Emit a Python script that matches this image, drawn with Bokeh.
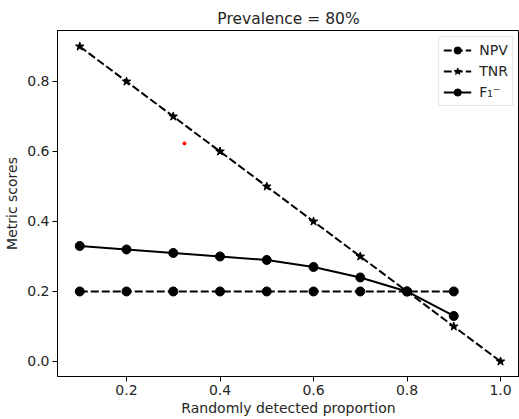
from bokeh.plotting import figure
from bokeh.models import Range1d, Legend, LegendItem, FixedTicker, PrintfTickFormatter
from bokeh.embed import file_html
from bokeh.resources import INLINE

# ---- data ----
x_detected = [0.1, 0.2, 0.3, 0.4, 0.5, 0.6, 0.7, 0.8, 0.9]
x_tnr = [0.1, 0.2, 0.3, 0.4, 0.5, 0.6, 0.7, 0.8, 0.9, 1.0]
npv = [0.2, 0.2, 0.2, 0.2, 0.2, 0.2, 0.2, 0.2, 0.2]
tnr = [0.9, 0.8, 0.7, 0.6, 0.5, 0.4, 0.3, 0.2, 0.1, 0.0]
f1_neg = [0.33, 0.32, 0.31, 0.30, 0.29, 0.27, 0.24, 0.20, 0.13]
stray_x = [0.324]
stray_y = [0.623]
x_ticks = [0.2, 0.4, 0.6, 0.8, 1.0]
y_ticks = [0.0, 0.2, 0.4, 0.6, 0.8]

FONT = "DejaVu Sans"
TXT = "#262626"

p = figure(width=519, height=419, output_backend="svg", toolbar_location=None,
           x_range=Range1d(0.0524, 1.0406), y_range=Range1d(-0.043, 0.9457),
           min_border_left=57, min_border_right=0, min_border_top=30,
           min_border_bottom=43, title="Prevalence = 80%")

p.title.align = "center"
p.title.text_font = FONT
p.title.text_font_size = "15.5px"
p.title.text_font_style = "normal"
p.title.text_color = TXT
p.title.standoff = 6

p.xgrid.visible = False
p.ygrid.visible = False
p.outline_line_color = "black"
p.outline_line_width = 1
p.background_fill_color = "white"
p.border_fill_color = "white"

for ax in (p.xaxis[0], p.yaxis[0]):
    ax.axis_line_color = "black"
    ax.major_tick_line_color = "black"
    ax.major_tick_in = 0
    ax.major_tick_out = 5
    ax.minor_tick_line_color = None
    ax.major_label_text_font = FONT
    ax.major_label_text_font_size = "14px"
    ax.major_label_text_color = TXT
    ax.axis_label_text_font = FONT
    ax.axis_label_text_font_size = "14px"
    ax.axis_label_text_font_style = "normal"
    ax.axis_label_text_color = TXT
    ax.major_label_standoff = 3
    ax.formatter = PrintfTickFormatter(format="%.1f")

p.xaxis.ticker = FixedTicker(ticks=x_ticks)
p.yaxis.ticker = FixedTicker(ticks=y_ticks)
p.xaxis.axis_label = "Randomly detected proportion"
p.yaxis.axis_label = "Metric scores"
p.xaxis.axis_label_standoff = 2
p.yaxis.axis_label_standoff = 4

# NPV
l1 = p.line(x_detected, npv, line_color="black", line_width=2, line_dash="8 3")
s1 = p.scatter(x_detected, npv, marker="circle", size=9, fill_color="black", line_color="black")
# TNR
l2 = p.line(x_tnr, tnr, line_color="black", line_width=2, line_dash="8 3")
s2 = p.scatter(x_tnr, tnr, marker="star", size=9, fill_color="black", line_color="black")
# F1-
l3 = p.line(x_detected, f1_neg, line_color="black", line_width=2)
s3 = p.scatter(x_detected, f1_neg, marker="circle", size=9, fill_color="black", line_color="black")

p.scatter(stray_x, stray_y, marker="circle", size=3, fill_color="red", line_color="red")

legend = Legend(items=[
    LegendItem(label="NPV", renderers=[l1, s1]),
    LegendItem(label="TNR", renderers=[l2, s2]),
    LegendItem(label="F\u2081\u207b", renderers=[l3, s3]),
], location="top_right")
legend.margin = 6
legend.padding = 4
legend.spacing = 3
legend.glyph_width = 28
legend.glyph_height = 18
legend.label_height = 18
legend.label_standoff = 8
legend.label_text_font = FONT
legend.label_text_font_size = "14px"
legend.label_text_color = TXT
legend.border_line_color = "#cccccc"
legend.border_line_width = 1
legend.background_fill_alpha = 0.8
p.add_layout(legend)

open("out.html", "w").write(file_html(p, INLINE))
